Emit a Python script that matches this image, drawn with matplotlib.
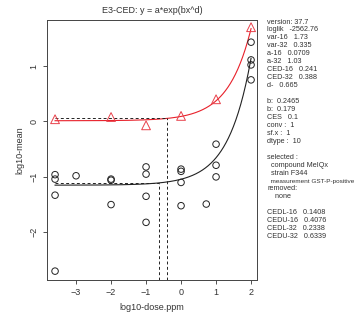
import numpy as np
import matplotlib
matplotlib.use("Agg")
import matplotlib.pyplot as plt

plt.rcParams['font.family'] = ['Liberation Sans', 'DejaVu Sans']

# observed means, subgroup 16 (black circles)
x16 = [-3.6, -3.6, -3.6, -3.6, -3, -2, -2, -2, -1, -1, -1, -1,
       0, 0, 0, 0, 0.72, 1, 1, 1, 2, 2, 2, 2]
y16 = [-0.96, -1.04, -1.33, -2.7, -0.98, -1.04, -1.06, -1.5, -0.82, -0.95, -1.35, -1.82,
       -0.86, -0.9, -1.1, -1.52, -1.49, -0.41, -0.79, -1.0, 1.43, 1.11, 1.02, 0.75]

# observed means, subgroup 32 (red triangles)
x32 = [-3.6, -2, -1, 0, 1, 2]
y32 = [0.04, 0.08, -0.07, 0.1, 0.4, 1.7]

# fitted parameters
a16, a32 = 0.0709, 1.03
b16, b32 = 0.2465, 0.179
d = 0.665
ces = 0.1
ced16, ced32 = 0.241, 0.388

info = ["version: 37.7", "loglik   -2562.76", "var-16   1.73", "var-32   0.335",
        "a-16   0.0709", "a-32   1.03", "CED-16   0.241", "CED-32   0.388",
        "d-   0.665", "", "b:  0.2465", "b:  0.179", "CES   0.1", "conv :  1",
        "sf.x :  1", "dtype :  10", "", "selected :", "  compound MeIQx",
        "  strain F344", "  measurement GST-P-positive", "removed:", "    none", "",
        "CEDL-16   0.1408", "CEDU-16   0.4076", "CEDL-32   0.2338", "CEDU-32   0.6339"]

W, H = 359, 320
fig = plt.figure(figsize=(W / 100, H / 100), dpi=100)
ax = fig.add_axes([47 / W, 40 / H, 210 / W, 260 / H])

xs = np.linspace(-3.6, 2, 400)
dose = 10 ** xs
f16 = np.log10(a16) + b16 * dose ** d * np.log10(np.e)
f32 = np.log10(a32) + b32 * dose ** d * np.log10(np.e)
ax.plot(xs, f16, color='#222222', lw=0.8)
ax.plot(xs, f32, color='#e8202a', lw=0.8)

ax.scatter(x16, y16, s=22, facecolors='none', edgecolors='#222222', linewidths=0.7, zorder=3)
ax.scatter(x32, y32, s=40, marker='^', facecolors='none', edgecolors='#e8404a', linewidths=0.7, zorder=3)

# CED lines
ybot = -2.86
for a, ced in [(a16, ced16), (a32, ced32)]:
    yc = np.log10(a * (1 + ces))
    xc = np.log10(ced)
    ax.plot([-3.6, xc], [yc, yc], color='#222222', lw=0.7, ls=(0, (3, 2.5)))
    ax.plot([xc, xc], [ybot, yc], color='#222222', lw=0.7, ls=(0, (3, 2.5)))

ax.set_xlim(-3.83, 2.17)
ax.set_ylim(-2.86, 1.83)
ax.set_xticks([-3, -2, -1, 0, 1, 2])
ax.set_yticks([-2, -1, 0, 1])
ax.tick_params(labelsize=6.5, length=3, width=0.6, colors='#333333', pad=3)
for lab in ax.get_yticklabels():
    lab.set_rotation(90)
    lab.set_va('center')
for sp in ax.spines.values():
    sp.set_linewidth(0.7)
    sp.set_color('#444444')
ax.set_xlabel('log10-dose.ppm', fontsize=6.5, color='#333333', labelpad=4)
ax.set_ylabel('log10-mean', fontsize=6.5, color='#333333', labelpad=4)
ax.set_title('E3-CED: y = a*exp(bx^d)', fontsize=6.5, color='#333333', pad=5)

for i, line in enumerate(info):
    fs = 4.6 if 'measurement' in line else 5.2
    fig.text(267 / W, 1 - (22 + i * 7.95) / H, line, fontsize=fs, color='#333333',
             va='center', ha='left')

fig.savefig('out.png', dpi=100)
